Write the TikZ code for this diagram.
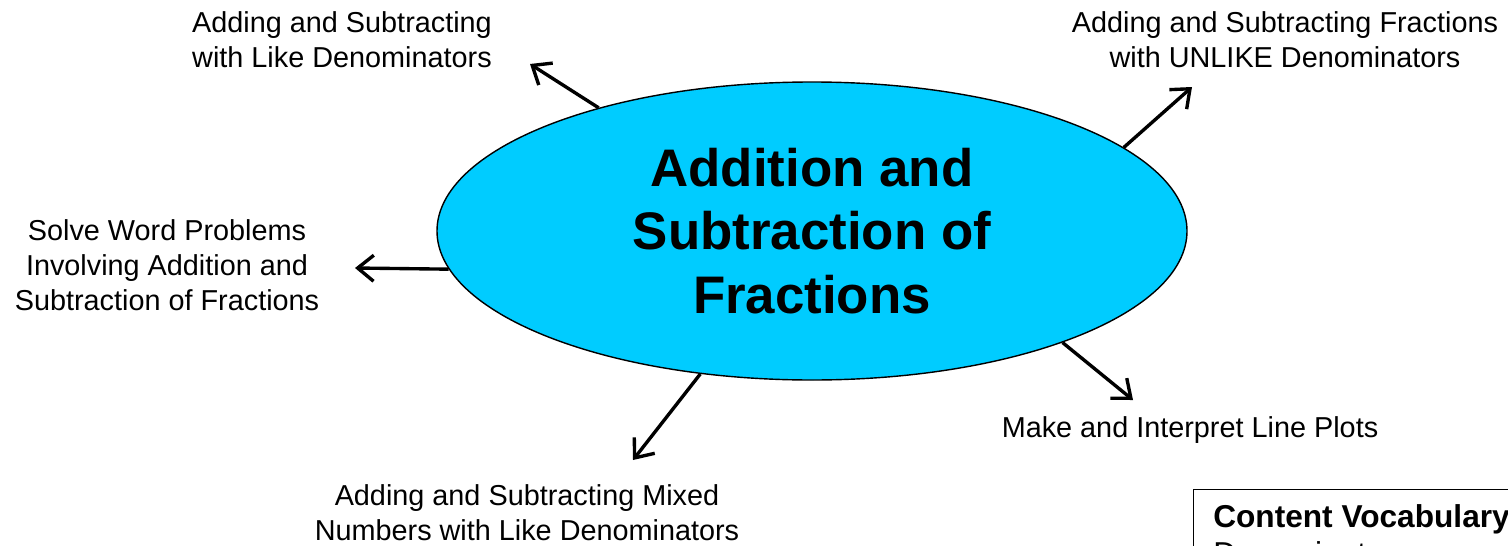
\documentclass[tikz,border=0pt]{standalone}
\usepackage{fontspec}
\setmainfont{Liberation Sans}
\usetikzlibrary{shapes.geometric}
\usetikzlibrary{arrows.meta}
\definecolor{SkyCyan}{RGB}{0,204,255}
\tikzset{
  topic/.style={ellipse,draw=black,line width=1pt,fill=SkyCyan,minimum width=18.75cm,
    minimum height=7.45cm,inner sep=0pt,align=center,font=\fontsize{37.6}{45.4}\selectfont\bfseries},
  lab/.style={align=center,inner sep=0pt,font=\fontsize{20.5}{24.8}\selectfont},
  edge/.style={draw=black,line width=2.4pt,-{Straight Barb[length=4mm,width=6.5mm]}},
}
\tikzset{vocab/.style={draw=black,line width=1pt,anchor=north west,minimum width=9cm,minimum height=3cm}, head/.style={anchor=base west,inner sep=0pt,font=\fontsize{22.5}{26}\selectfont\bfseries}}

\begin{document}
\begin{tikzpicture}
\useasboundingbox (0,0) rectangle (37.7,-13.625);
\clip (0,0) rectangle (37.7,-13.625);
\node[topic] (core) at (20.3,-5.775) {\raisebox{-0.08cm}{\parbox{12cm}{\centering Addition and\\Subtraction of\\Fractions}}};
\node[lab] (like) at (8.55,-1.0) {Adding and Subtracting\\with Like Denominators};
\node[lab] (unlike) at (32.125,-1.0) {Adding and Subtracting Fractions\\with UNLIKE Denominators};
\node[lab] (word) at (4.175,-6.625) {Solve Word Problems\\Involving Addition and\\Subtraction of Fractions};
\node[lab] (plots) at (29.75,-10.75) {Make and Interpret Line Plots};
\node[lab] (mixed) at (13.175,-12.825) {Adding and Subtracting Mixed\\Numbers with Like Denominators};
% arrow tips
\coordinate (likeTip) at (13.25,-1.6);
\coordinate (unlikeTip) at (29.8,-2.175);
\coordinate (wordTip) at (8.875,-6.7);
\coordinate (mixedTip) at (15.825,-11.5);
\coordinate (plotsTip) at (28.325,-10.0);
\draw[edge] (core.150) -- (likeTip);
\draw[edge] (core.15) -- (unlikeTip);
\draw[edge] (core.186) -- (wordTip);
\draw[edge] (core.232) -- (mixedTip);
\draw[edge] (core.336) -- (plotsTip);
% vocabulary box
\node[vocab] (vocabbox) at (29.825,-12.225) {};
\node[head] (vocabtitle) at (30.325,-13.175) {Content Vocabulary};
\node[head,font=\fontsize{22.5}{26}\selectfont] (vocabword) at (30.325,-14.1) {Denominator};
\end{tikzpicture}
\end{document}
